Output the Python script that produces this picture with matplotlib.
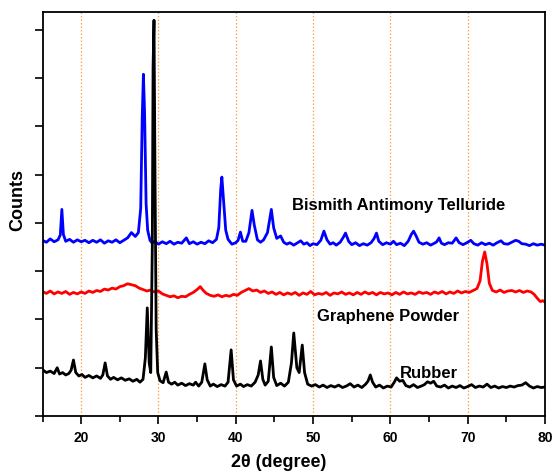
import matplotlib
matplotlib.use("Agg")
import matplotlib.pyplot as plt
from matplotlib.ticker import MultipleLocator

plt.rcParams["font.family"] = ["Liberation Sans", "DejaVu Sans"]
plt.rcParams["font.weight"] = "bold"

# Bismuth antimony telluride (blue)
bst_2theta = [
    15.0, 15.5, 16.0, 16.5, 17.0, 17.3, 17.5, 17.7, 18.0, 18.5, 19.0, 19.5,
    20.0, 20.5, 21.0, 21.5, 22.0, 22.5, 23.0, 23.5, 24.0, 24.5, 25.0, 25.5,
    26.0, 26.5, 27.0, 27.4, 27.7, 27.9, 28.05, 28.2, 28.4, 28.6, 28.9, 29.2,
    29.5, 30.0, 30.5, 31.0, 31.5, 32.0, 32.5, 33.0, 33.6, 34.0, 34.5, 35.0,
    35.5, 36.0, 36.5, 37.0, 37.5, 37.8, 38.05, 38.2, 38.4, 38.7, 39.0, 39.5,
    40.0, 40.3, 40.6, 40.9, 41.3, 41.7, 42.1, 42.4, 42.8, 43.2, 43.6, 44.1,
    44.6, 44.9, 45.3, 45.8, 46.2, 46.6, 47.0, 47.5, 48.0, 48.4, 48.8, 49.2,
    49.6, 50.0, 50.5, 51.0, 51.4, 51.8, 52.2, 52.6, 53.0, 53.5, 53.9, 54.2,
    54.6, 55.0, 55.5, 56.0, 56.5, 57.0, 57.5, 57.9, 58.2, 58.5, 59.0, 59.5,
    60.0, 60.4, 60.8, 61.3, 61.8, 62.3, 62.7, 63.0, 63.3, 63.7, 64.2, 64.7,
    65.2, 65.7, 66.0, 66.3, 66.6, 67.0, 67.5, 68.0, 68.5, 68.9, 69.4, 69.9,
    70.4, 70.8, 71.3, 71.8, 72.3, 72.8, 73.3, 73.8, 74.3, 74.7, 75.2, 75.7,
    76.2, 76.6, 77.0, 77.5, 78.0, 78.5, 79.0, 79.5, 80.0,
]
bst_counts = [
    3640, 3600, 3670, 3610, 3650, 3750, 4280, 3760, 3620, 3660, 3600, 3650,
    3610, 3640, 3590, 3640, 3600, 3650, 3580, 3630, 3600, 3650, 3590, 3640,
    3690, 3800, 3720, 3800, 4300, 6200, 7080, 6300, 4400, 3850, 3640, 3580,
    3620, 3560, 3610, 3570, 3620, 3560, 3600, 3580, 3690, 3570, 3610, 3560,
    3600, 3570, 3630, 3590, 3660, 3900, 4700, 4950, 4500, 3850, 3660, 3560,
    3590, 3640, 3810, 3620, 3620, 3800, 4260, 3950, 3650, 3600, 3650, 3800,
    4280, 3900, 3680, 3730, 3600, 3560, 3590, 3540, 3590, 3630, 3560, 3590,
    3530, 3570, 3550, 3640, 3830, 3650, 3560, 3590, 3540, 3600, 3700, 3790,
    3620, 3550, 3590, 3530, 3570, 3540, 3590, 3680, 3790, 3620, 3550, 3590,
    3560, 3620, 3550, 3580, 3530, 3620, 3760, 3830, 3740, 3600, 3560, 3590,
    3540, 3580, 3610, 3690, 3580, 3550, 3590, 3580, 3690, 3590, 3550, 3590,
    3640, 3570, 3540, 3590, 3550, 3580, 3540, 3590, 3630, 3570, 3560, 3600,
    3640, 3620, 3570, 3560, 3530, 3570, 3540, 3560, 3540,
]

# Graphene powder (red)
gr_2theta = [
    15.0, 15.5, 16.0, 16.5, 17.0, 17.5, 18.0, 18.5, 19.0, 19.5, 20.0, 20.5,
    21.0, 21.5, 22.0, 22.5, 23.0, 23.5, 24.0, 24.5, 25.0, 25.5, 26.0, 26.5,
    27.0, 27.5, 28.0, 28.5, 29.0, 29.5, 30.0, 30.5, 31.0, 31.5, 32.0, 32.5,
    33.0, 33.5, 34.0, 34.5, 35.0, 35.4, 35.8, 36.2, 36.7, 37.2, 37.7, 38.2,
    38.7, 39.2, 39.7, 40.2, 40.7, 41.2, 41.7, 42.2, 42.7, 43.2, 43.7, 44.2,
    44.7, 45.2, 45.7, 46.2, 46.7, 47.2, 47.7, 48.2, 48.7, 49.2, 49.7, 50.2,
    50.7, 51.2, 51.7, 52.2, 52.7, 53.2, 53.7, 54.2, 54.7, 55.2, 55.7, 56.2,
    56.7, 57.2, 57.7, 58.2, 58.7, 59.2, 59.7, 60.2, 60.7, 61.2, 61.7, 62.2,
    62.7, 63.2, 63.7, 64.2, 64.7, 65.2, 65.7, 66.2, 66.7, 67.2, 67.7, 68.2,
    68.7, 69.2, 69.7, 70.2, 70.7, 71.2, 71.6, 71.9, 72.2, 72.5, 72.8, 73.2,
    73.7, 74.2, 74.7, 75.2, 75.7, 76.2, 76.7, 77.2, 77.7, 78.2, 78.6, 79.0,
    79.4, 79.7, 80.0,
]
gr_counts = [
    2580, 2540, 2590, 2530, 2570, 2540, 2580, 2520, 2560, 2530, 2570, 2540,
    2590, 2560, 2600, 2580, 2630, 2610, 2650, 2630, 2680, 2700, 2740, 2720,
    2700, 2650, 2620, 2590, 2610, 2570, 2590, 2530, 2500, 2470, 2490, 2450,
    2480, 2470, 2520, 2560, 2620, 2680, 2600, 2540, 2500, 2480, 2510, 2470,
    2500, 2480, 2520, 2500, 2560, 2600, 2640, 2590, 2610, 2560, 2590, 2540,
    2570, 2520, 2560, 2510, 2550, 2520, 2560, 2500, 2550, 2520, 2580, 2510,
    2540, 2520, 2560, 2500, 2550, 2530, 2570, 2520, 2550, 2510, 2560, 2520,
    2570, 2530, 2560, 2510, 2560, 2530, 2550, 2510, 2560, 2520, 2570, 2530,
    2550, 2520, 2570, 2540, 2560, 2520, 2570, 2540, 2580, 2530, 2570, 2540,
    2590, 2550, 2580, 2560, 2600, 2640, 2800, 3200, 3400, 3150, 2750, 2600,
    2570, 2610, 2560, 2590, 2600, 2570, 2600, 2560, 2590, 2570, 2520, 2440,
    2370, 2390, 2360,
]

# Rubber (black)
rub_2theta = [
    15.0, 15.5, 16.0, 16.5, 16.9, 17.2, 17.6, 18.0, 18.4, 18.7, 19.0, 19.3,
    19.7, 20.1, 20.5, 21.0, 21.5, 22.0, 22.5, 22.8, 23.1, 23.4, 23.8, 24.2,
    24.7, 25.2, 25.7, 26.2, 26.7, 27.2, 27.6, 28.0, 28.3, 28.55, 28.8, 29.0,
    29.2, 29.3, 29.42, 29.55, 29.7, 29.9, 30.2, 30.6, 31.0, 31.3, 31.7, 32.1,
    32.5, 33.0, 33.5, 34.0, 34.5, 34.8, 35.2, 35.6, 36.0, 36.3, 36.7, 37.1,
    37.6, 38.1, 38.6, 39.0, 39.4, 39.7, 40.1, 40.6, 41.0, 41.5, 42.0, 42.5,
    42.9, 43.2, 43.5, 43.8, 44.2, 44.6, 44.9, 45.3, 45.8, 46.3, 46.8, 47.2,
    47.5, 47.9, 48.2, 48.6, 48.9, 49.3, 49.8, 50.3, 50.8, 51.3, 51.8, 52.3,
    52.8, 53.3, 53.8, 54.3, 54.8, 55.3, 55.8, 56.3, 56.8, 57.1, 57.4, 57.7,
    58.1, 58.6, 59.1, 59.6, 60.1, 60.5, 60.8, 61.2, 61.6, 62.0, 62.5, 63.0,
    63.5, 64.0, 64.4, 64.8, 65.2, 65.6, 66.0, 66.5, 67.0, 67.5, 68.0, 68.5,
    69.0, 69.5, 70.0, 70.5, 71.0, 71.5, 72.0, 72.5, 73.0, 73.5, 74.0, 74.5,
    75.0, 75.5, 76.0, 76.5, 77.0, 77.5, 78.0, 78.5, 79.0, 79.5, 80.0,
]
rub_counts = [
    960, 900, 930, 880, 1000, 870, 900, 850, 880, 950, 1160, 900,
    830, 860, 800, 840, 790, 830, 780, 850, 1100, 830, 760, 800,
    750, 790, 740, 770, 720, 760, 700, 760, 1200, 2240, 1100, 900,
    3500, 7220, 8200, 5000, 1800, 900, 730, 690, 910, 700, 660, 700,
    640, 680, 630, 670, 640, 700, 620, 700, 1080, 750, 620, 660,
    610, 650, 620, 700, 1370, 750, 620, 660, 610, 650, 620, 700,
    850, 1140, 760, 640, 720, 1430, 800, 630, 680, 620, 700, 1100,
    1720, 1000, 900, 1470, 900, 660, 620, 650, 600, 640, 590, 630,
    600, 640, 590, 620, 670, 600, 640, 590, 660, 720, 850, 700,
    600, 640, 580, 620, 600, 700, 790, 720, 740, 630, 600, 650,
    590, 620, 650, 710, 680, 720, 620, 600, 640, 580, 620, 590,
    630, 580, 610, 650, 590, 620, 600, 660, 590, 620, 580, 610,
    590, 620, 600, 630, 640, 690, 620, 580, 610, 590, 600,
]

grid_positions = [20, 30, 40, 50, 60, 70]

fig = plt.figure(figsize=(5.53, 4.73), dpi=100)
ax = fig.add_axes([0.0769, 0.1205, 0.9086, 0.8541])

for gx in grid_positions:
    ax.axvline(gx, color="#ffa54a", lw=0.9, ls=(0, (1.2, 1.6)), zorder=0)

ax.plot(bst_2theta, bst_counts, color="#0000ff", lw=2.0)
ax.plot(gr_2theta, gr_counts, color="#ff0000", lw=2.0)
ax.plot(rub_2theta, rub_counts, color="black", lw=2.0)

ax.text(61.1, 4370, "Bismith Antimony Telluride", ha="center", va="center",
        fontsize=12, fontweight="bold")
ax.text(59.7, 2070, "Graphene Powder", ha="center", va="center",
        fontsize=12, fontweight="bold")
ax.text(65.0, 890, "Rubber", ha="center", va="center",
        fontsize=12, fontweight="bold")

ax.set_xlim(15, 80)
ax.set_ylim(0, 8370)
ax.xaxis.set_major_locator(MultipleLocator(10))
ax.xaxis.set_minor_locator(MultipleLocator(5))
ax.yaxis.set_major_locator(MultipleLocator(1000))
ax.tick_params(axis="x", which="major", direction="out", length=6, width=1.2,
               labelsize=10, pad=5)
ax.tick_params(axis="x", which="minor", direction="out", length=4, width=1.2)
ax.tick_params(axis="y", direction="out", length=6, width=1.2, labelleft=False)
for lab in ax.get_xticklabels():
    lab.set_fontweight("bold")
for sp in ax.spines.values():
    sp.set_linewidth(1.3)

ax.set_xlabel("2\u03b8 (degree)", fontsize=13, fontweight="bold", va="center")
ax.xaxis.set_label_coords(0.47, -0.116)
ax.set_ylabel("Counts", fontsize=13, fontweight="bold", va="center")
ax.yaxis.set_label_coords(-0.05, 0.535)

fig.savefig("out.png", dpi=100)
plt.close(fig)
